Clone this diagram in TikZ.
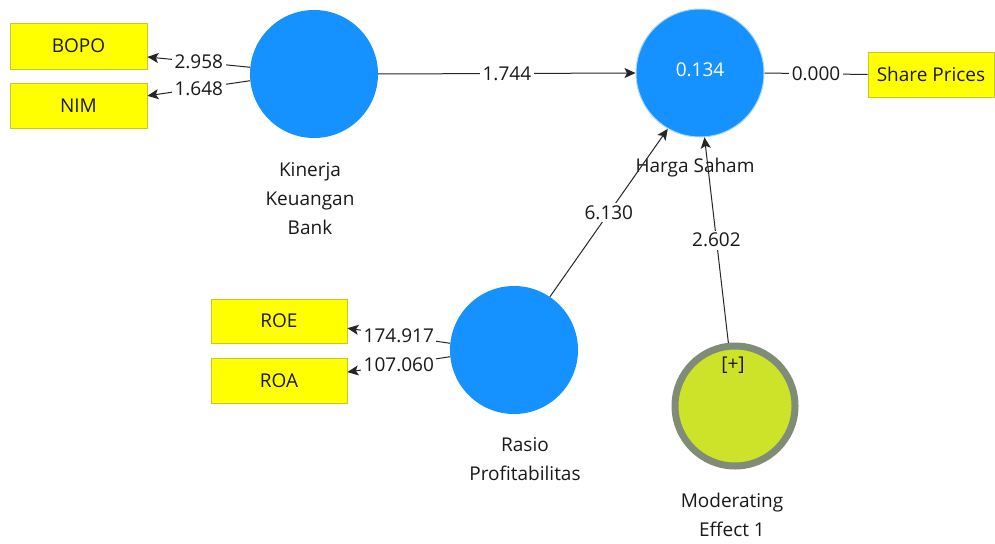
\documentclass[tikz,border=0pt]{standalone}
\usepackage{fontspec}
\setmainfont{Open Sans}
\usetikzlibrary{arrows.meta}
\definecolor{lvblue}{RGB}{21,146,255}
\definecolor{boxyel}{RGB}{255,255,0}
\definecolor{boxedge}{RGB}{200,200,40}
\definecolor{modfill}{RGB}{205,227,42}
\definecolor{modedge}{RGB}{128,140,120}
\definecolor{txt}{RGB}{25,25,25}
\begin{document}
\begin{tikzpicture}[x=1pt,y=-1pt,
  font=\fontsize{19}{29}\selectfont,
  lv/.style={circle,fill=lvblue,minimum size=128pt,inner sep=0pt},
  modlv/.style={circle,fill=modfill,draw=modedge,line width=7pt,minimum size=120pt,inner sep=0pt},
  ind/.style={rectangle,fill=boxyel,draw=boxedge,line width=0.8pt,inner sep=0pt,text=txt},
  lbl/.style={text=txt,align=center,inner sep=0pt},
  elab/.style={fill=white,inner sep=2.5pt,text=txt},
  conn/.style={draw=black!85,line width=1pt},
  arr/.style={conn,-{Stealth[length=11pt,width=10pt,inset=2.5pt]}}
]
\useasboundingbox (0,0) rectangle (995,543);
% latent variables
\node[lv] (kin) at (314,74) {};
\node[lv,draw=white!65!lvblue,line width=1pt] (hs) at (700,73) {};
\node[text=white,inner sep=0pt] (hsval) at (700,70) {0.134};
\node[lv] (rp) at (514,350) {};
\node[modlv] (me) at (735,406) {};
\node[text=txt,inner sep=0pt] (plus) at (733,365) {[+]};
% labels
\node[lbl] (kinl) at (310,199) {Kinerja\\Keuangan\\Bank};
\node[lbl] (hsl) at (695,168) {Harga Saham};
\node[lbl] (rpl) at (525,459.5) {Rasio\\Profitabilitas};
\node[lbl] (mel) at (732,514.5) {Moderating\\Effect 1};
% indicators
\node[ind,minimum width=137pt,minimum height=46pt] (bopo) at (78.5,46) {BOPO};
\node[ind,minimum width=137pt,minimum height=45pt] (nim) at (78.5,105.5) {NIM};
\node[ind,minimum width=136pt,minimum height=44pt] (roe) at (279,321) {ROE};
\node[ind,minimum width=136pt,minimum height=45pt] (roa) at (279,380.5) {ROA};
\node[ind,minimum width=126pt,minimum height=45pt] (sp) at (931,74.5) {Share Prices};
% connectors
\draw[arr] (kin.174.6) -- node[elab] {2.958} (bopo.-9);
\draw[arr] (kin.186.2) -- node[elab] {1.648} (nim.8);
\draw[arr] (rp.174.6) -- node[elab] {174.917} (roe.-6);
\draw[arr] (rp.186.2) -- node[elab] {107.060} (roa.7.8);
\draw[arr] (kin.east) -- node[elab] {1.744} (hs.west);
\draw[conn] (hs.east) -- node[elab] {0.000} (sp.west);
\draw[arr] (rp.56.6) -- node[elab] {6.130} (hs.240);
\draw[arr] (me.96) -- node[elab] {2.602} (hs.274);
\end{tikzpicture}
\end{document}
